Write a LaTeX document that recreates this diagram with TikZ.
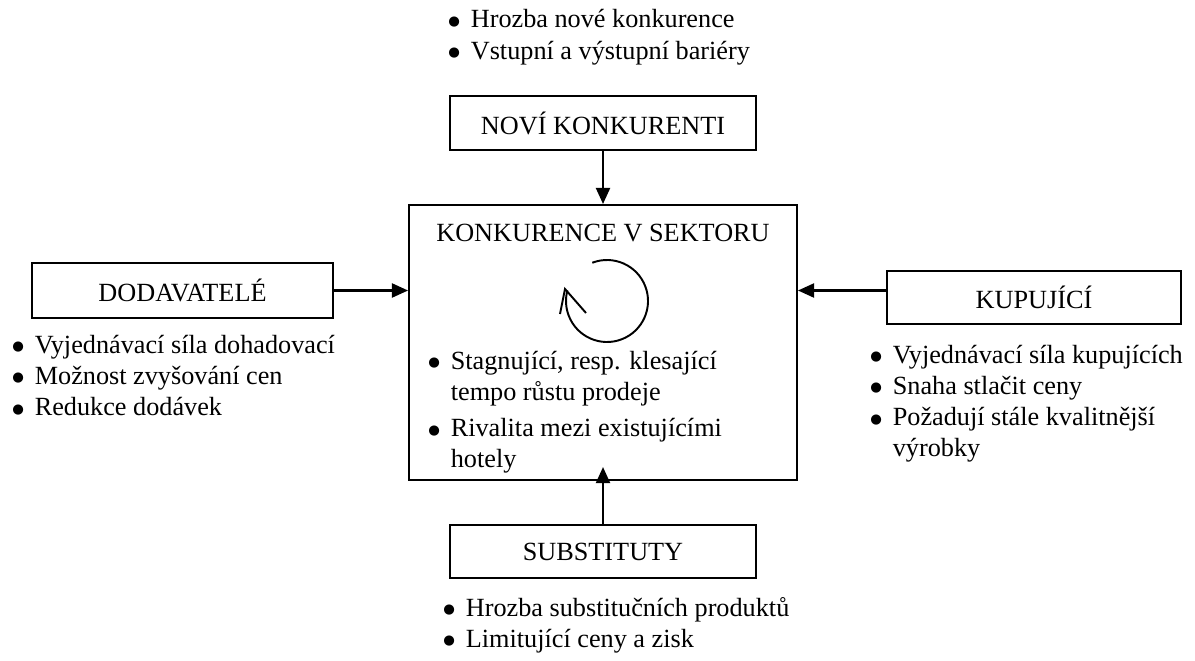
\documentclass[tikz,border=0pt]{standalone}
\usepackage{fontspec}
\setmainfont{Liberation Serif}
\newfontfamily\dotfont{DejaVu Sans}
\usetikzlibrary{arrows.meta}

\newcommand{\blt}{\raisebox{1.1pt}{\dotfont\fontsize{6.2}{6.2}\selectfont ●}}

\begin{document}
\begin{tikzpicture}[x=0.465pt, y=-0.465pt, font=\fontsize{12.2}{14.5}\selectfont,
   frame/.style={draw, line width=0.9pt, inner sep=0pt},
   link/.style={line width=1.1pt, -{Triangle[length=7.5pt, width=6.5pt]}},
   list/.style={anchor=base west, inner sep=0pt, align=left}]
   \useasboundingbox (0,0) rectangle (1195,660);

   % the five boxes
   \node[frame, minimum width=142.3pt, minimum height=25.1pt] (novi) at (603,123) {NOVÍ KONKURENTI};
   \node[frame, minimum width=180.4pt, minimum height=127.9pt] (core) at (603,342.5) {};
   \node[frame, minimum width=140pt, minimum height=25.6pt] (dod) at (182.5,290.5) {DODAVATELÉ};
   \node[frame, minimum width=136.7pt, minimum height=24.6pt] (kup) at (1034,297.5) {KUPUJÍCÍ};
   \node[frame, minimum width=142.3pt, minimum height=24.6pt] (subst) at (603,551.5) {SUBSTITUTY};

   \node (title) at (603,233) {KONKURENCE V SEKTORU};

   % rotating arrow
   \coordinate (spin) at (607,301);
   \draw[line width=0.9pt] (spin) ++(-111:41) arc[start angle=-111, end angle=195, radius=41];
   \draw[line width=0.9pt, line join=miter] (spin) ++(-47,13) -- ++(5,-25) -- ++(21,24);

   % arrows into the sector
   \draw[link] (novi) -- (core);
   \draw[link] (dod.east) -- (dod.east -| core.west);
   \draw[link] (kup.west |- dod.east) -- (core.east |- dod.east);
   \draw[link] (subst.north) -- ([yshift=6.5pt]core.south);

   % bullet lists
   \node[list] (tlist) at (448,28) {\begin{tabular}[t]{@{}l@{\hspace{5pt}}l@{}}
      \blt & Hrozba nové konkurence\\
      \blt & Vstupní a výstupní bariéry
   \end{tabular}};
   \node[list] (llist) at (12,353) {\begin{tabular}[t]{@{}l@{\hspace{5pt}}l@{}}
      \blt & Vyjednávací síla dohadovací\\
      \blt & Možnost zvyšování cen\\
      \blt & Redukce dodávek
   \end{tabular}};
   \node[list] (clist) at (428,369) {\begin{tabular}[t]{@{}l@{\hspace{5pt}}l@{}}
      \blt & Stagnující, resp. klesající\\
           & tempo růstu prodeje\\[2.5pt]
      \blt & Rivalita mezi existujícími\\
           & hotely
   \end{tabular}};
   \node[list] (rlist) at (870,363) {\begin{tabular}[t]{@{}l@{\hspace{5pt}}l@{}}
      \blt & Vyjednávací síla kupujících\\
      \blt & Snaha stlačit ceny\\
      \blt & Požadují stále kvalitnější\\
           & výrobky
   \end{tabular}};
   \node[list] (blist) at (443,616) {\begin{tabular}[t]{@{}l@{\hspace{5pt}}l@{}}
      \blt & Hrozba substitučních produktů\\
      \blt & Limitující ceny a zisk
   \end{tabular}};
\end{tikzpicture}
\end{document}
